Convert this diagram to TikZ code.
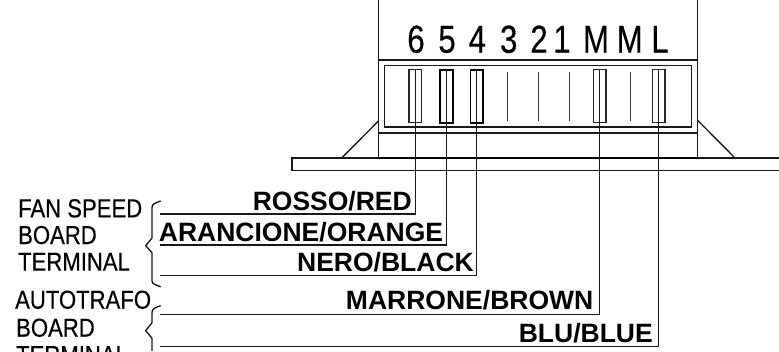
\documentclass[tikz,border=0pt]{standalone}
\usepackage{fontspec}
\setmainfont{Liberation Sans}
\newfontfamily\heavyfont[FakeBold=0.35]{Liberation Sans}
\usetikzlibrary{shapes.misc, arrows, shapes}

\tikzset{
	wire/.style={line width=1.35pt, black!90},
	contact/.style={draw, line width=1.3pt, black!85, minimum width=12.5pt, minimum height=53pt, inner sep=0pt, outer sep=0pt},
	contactbold/.style={contact, line width=1.8pt, black},
	pin/.style={line width=1.2pt, black!80},
	digit/.style={anchor=base, inner sep=0pt, font=\heavyfont\fontsize{39}{39}\selectfont, transform shape, xscale=.80},
	caption/.style={anchor=base west, inner sep=0pt, font=\heavyfont\fontsize{26}{26}\selectfont, transform shape, xscale=.85},
	colorname/.style={anchor=base east, inner sep=0pt, font=\bfseries\fontsize{26.5}{26.5}\selectfont},
}

\begin{document}
\begin{tikzpicture}[x=1pt, y=-1pt]
	\clip (0,0) rectangle (779,351);
	% housing and plate
	\draw[wire] (378.7,0) -- (378.7,158) (697.7,0) -- (697.7,158);
	\draw[wire] (378.7,60) -- (697.7,60) (378.7,133) -- (697.7,133);
	\draw[wire] (384.7,65.7) rectangle (691.7,127);
	\draw[wire] (378.7,120.7) -- (341.7,158) (698,120.7) -- (735,158);
	\draw[wire] (779,158) -- (292,158) -- (292,170.3) -- (779,170.3);
	\draw[line width=1.7pt] (378.7,158) -- (697.7,158);
	% terminal numbers
	\node[digit] (n6) at (416,52.7) {6};
	\node[digit] (n5) at (447,52.7) {5};
	\node[digit] (n4) at (477.3,52.7) {4};
	\node[digit] (n3) at (508.7,52.7) {3};
	\node[digit] (n2) at (539,52.7) {2};
	\node[digit] (n1) at (562,52.7) {1};
	\node[digit] (nm) at (596,52.7) {M};
	\node[digit] (nn) at (629.7,52.7) {M};
	\node[digit] (nl) at (660,52.7) {L};
	% contacts
	\node[contact] (c6) at (415.3,96.2) {};
	\node[contactbold] (c5) at (446.4,96.2) {};
	\node[contactbold] (c4) at (476.8,96.2) {};
	\node[contact] (cm) at (599.6,96.2) {};
	\node[contact] (cl) at (658.6,96.2) {};
	\draw[pin] (507.7,71.7) -- (507.7,120.7);
	\draw[pin] (538.4,71.7) -- (538.4,120.7);
	\draw[pin] (569.4,71.7) -- (569.4,120.7);
	\draw[pin] (630.4,71.7) -- (630.4,120.7);
	% wire ends
	\coordinate (e6) at (160,214);
	\coordinate (e5) at (160,245);
	\coordinate (e4) at (160,275.7);
	\coordinate (em) at (160,314.5);
	\coordinate (el) at (160,346.8);
	\draw[wire] (c6.north) -- (c6.north |- e6) -- (e6);
	\draw[wire] (c5.north) -- (c5.north |- e5) -- (e5);
	\draw[wire] (c4.north) -- (c4.north |- e4) -- (e4);
	\draw[wire] (cm.north) -- (cm.north |- em) -- (em);
	\draw[wire] (cl.north) -- (cl.north |- el) -- (el);
	% colour names
	\node[colorname] (red) at (412,210.5) {ROSSO/RED};
	\node[colorname] (orange) at (443.3,241) {ARANCIONE/ORANGE};
	\node[colorname] (black) at (474,271.5) {NERO/BLACK};
	\node[colorname] (brown) at (593.5,309.5) {MARRONE/BROWN};
	\node[colorname] (blue) at (653,342) {BLU/BLUE};
	% captions
	\node[caption] (fan) at (18,217.3) {FAN SPEED};
	\node[caption] (fanb) at (18,244) {BOARD};
	\node[caption] (fant) at (18,270.7) {TERMINAL};
	\node[caption] (auto) at (15,308.7) {AUTOTRAFO};
	\node[caption] (autob) at (16,336.7) {BOARD};
	\node[caption] (autot) at (16,364) {TERMINAL};
	% braces
	\draw[wire] (160.7,201) .. controls (155,203) and (152,204) .. (152,207.5) -- (152,238) -- (145.7,245.7) -- (152,252.7) -- (152,281) .. controls (152,284) and (156,285) .. (160.7,286.7);
	\draw[wire] (160.7,305.7) .. controls (155,307.5) and (152,309) .. (152,312.5) -- (152,322.7) -- (145.7,330.7) -- (152,338.3) -- (152,351);
\end{tikzpicture}
\end{document}
